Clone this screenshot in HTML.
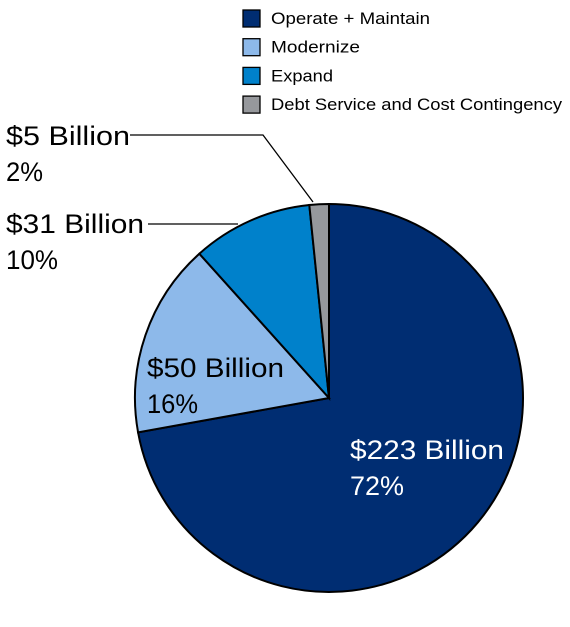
<!DOCTYPE html>
<html><head><meta charset="utf-8"><style>
body{margin:0;background:#fff;width:570px;height:622px;overflow:hidden}
svg{font-family:"Liberation Sans",sans-serif}
</style></head><body>
<svg width="570" height="622">
<g id="slices"></g>
<g id="legend"></g>
<g stroke="#000" stroke-width="1.3" fill="none">
<polyline points="130,135 263,135 313,202"/>
<polyline points="148,224 238,224"/>
</g>
<g font-size="27">
<text x="6" y="145" textLength="124" lengthAdjust="spacingAndGlyphs" fill="#000">$5 Billion</text>
<text x="6" y="181" textLength="37" lengthAdjust="spacingAndGlyphs" fill="#000">2%</text>
<text x="6" y="233" textLength="138" lengthAdjust="spacingAndGlyphs" fill="#000">$31 Billion</text>
<text x="6" y="269" textLength="52" lengthAdjust="spacingAndGlyphs" fill="#000">10%</text>
<text x="147" y="377" textLength="137" lengthAdjust="spacingAndGlyphs" fill="#000">$50 Billion</text>
<text x="147" y="413" textLength="51" lengthAdjust="spacingAndGlyphs" fill="#000">16%</text>
<text x="350" y="459" textLength="154" lengthAdjust="spacingAndGlyphs" fill="#fff">$223 Billion</text>
<text x="350" y="495" textLength="54" lengthAdjust="spacingAndGlyphs" fill="#fff">72%</text>
</g>
</svg>
<script>
const categories=["Operate + Maintain","Modernize","Expand","Debt Service and Cost Contingency"];
const values=[223,50,31,5];
const colors=["#002d72","#8db9ea","#0081cb","#96989c"];
const legendWidths=[159,89,62,291];
const cx=329,cy=398,r=194;
const NS="http://www.w3.org/2000/svg";
const total=values.reduce((a,b)=>a+b,0);
const g=document.getElementById("slices");
let a0=0;
function pt(a){return [cx+r*Math.sin(a),cy-r*Math.cos(a)];}
values.forEach((v,i)=>{
  const a1=a0+v/total*2*Math.PI;
  const p0=pt(a0),p1=pt(a1);
  const large=(a1-a0)>Math.PI?1:0;
  const p=document.createElementNS(NS,"path");
  p.setAttribute("d",`M${cx},${cy}L${p0[0]},${p0[1]}A${r},${r} 0 ${large} 1 ${p1[0]},${p1[1]}Z`);
  p.setAttribute("fill",colors[i]);
  p.setAttribute("stroke","#000");
  p.setAttribute("stroke-width","2");
  
  
  g.appendChild(p);
  a0=a1;
});
const lg=document.getElementById("legend");
categories.forEach((c,i)=>{
  const y=10+i*28.7;
  const rc=document.createElementNS(NS,"rect");
  rc.setAttribute("x",243);rc.setAttribute("y",y);rc.setAttribute("width",17);rc.setAttribute("height",17);
  rc.setAttribute("fill",colors[i]);rc.setAttribute("stroke","#000");rc.setAttribute("stroke-width","1.3");
  
  
  lg.appendChild(rc);
  const t=document.createElementNS(NS,"text");
  t.setAttribute("x",271);t.setAttribute("y",y+14);t.setAttribute("font-size","17");
  t.setAttribute("textLength",legendWidths[i]);t.setAttribute("lengthAdjust","spacingAndGlyphs");
  t.textContent=c;
  
  
  lg.appendChild(t);
});
</script>
</body></html>
